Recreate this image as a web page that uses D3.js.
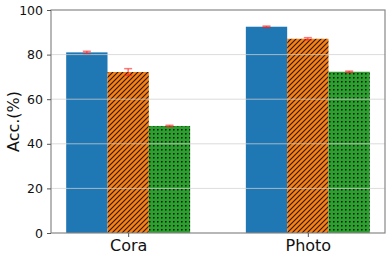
<!DOCTYPE html>
<html>
<head>
<meta charset="utf-8">
<script src="https://cdn.jsdelivr.net/npm/d3@7"></script>
<style>
  body { margin: 0; background: #fff; }
  svg { font-family: "DejaVu Sans", sans-serif; }
</style>
</head>
<body>
<svg id="chart" width="391" height="259"></svg>
<script>
// data
var datasets = ["Cora", "Photo"];
var seriesNames = ["s1", "s2", "s3"];
var accValues = [
    [81.0, 72.2, 48.0],   // Cora
    [92.5, 87.1, 72.3]    // Photo
];
var accErrors = [
    [0.5, 1.5, 0.3],
    [0.3, 0.5, 0.3]
];
var yTicks = [0, 20, 40, 60, 80, 100];

var colors = ["#1f77b4", "#ff7f0e", "#2ca02c"];
var fills = ["#1f77b4", "url(#hatch-diag)", "url(#hatch-dots)"];

var svg = d3.select("#chart");
var plotLeft = 51, plotRight = 385, plotTop = 10, plotBottom = 233;

var barW = 0.23;
// matplotlib-like limits: bars span -1.5w .. 1+1.5w plus 5% margin
var lo = -1.5 * barW, hi = 1 + 1.5 * barW, pad = (hi - lo) * 0.05;
var x = d3.scaleLinear().domain([lo - pad, hi + pad]).range([plotLeft, plotRight]);
var y = d3.scaleLinear().domain([0, 100]).range([plotBottom, plotTop]);

// patterns
var defs = svg.append("defs");
var p1 = defs.append("pattern")
    .attr("id", "hatch-diag")
    .attr("patternUnits", "userSpaceOnUse")
    .attr("width", 5).attr("height", 5);
p1.append("rect").attr("width", 5).attr("height", 5).attr("fill", colors[1]);
p1.append("path")
    .attr("d", "M-1,6 L6,-1 M-1,1 L1,-1 M4,6 L6,4")
    .attr("stroke", "#1a1a1a")
    .attr("stroke-width", 1.1);

var p2 = defs.append("pattern")
    .attr("id", "hatch-dots")
    .attr("patternUnits", "userSpaceOnUse")
    .attr("width", 4).attr("height", 4);
p2.append("rect").attr("width", 4).attr("height", 4).attr("fill", colors[2]);
p2.append("rect").attr("x", 1).attr("y", 1).attr("width", 1.5).attr("height", 1.5).attr("fill", "#111");

// bars
var groups = svg.selectAll("g.group")
    .data(accValues)
    .enter()
    .append("g")
    .attr("class", "group");

groups.selectAll("rect")
    .data(function (d, gi) {
        return d.map(function (v, si) { return { g: gi, s: si, v: v }; });
    })
    .enter()
    .append("rect")
    .attr("x", function (d) { return x(d.g + (d.s - 1.5) * barW); })
    .attr("width", function (d) { return x(barW) - x(0); })
    .attr("y", function (d) { return y(d.v); })
    .attr("height", function (d) { return y(0) - y(d.v); })
    .attr("fill", function (d) { return fills[d.s]; });

// grid lines (drawn above the bars, like the picture)
svg.append("g")
    .selectAll("line")
    .data(yTicks.slice(1, -1))
    .enter()
    .append("line")
    .attr("x1", plotLeft).attr("x2", plotRight)
    .attr("y1", function (d) { return y(d); })
    .attr("y2", function (d) { return y(d); })
    .attr("stroke", "#d0d0d0")
    .attr("stroke-opacity", 0.75)
    .attr("stroke-width", 1);

// error bars
var errData = [];
accValues.forEach(function (row, gi) {
    row.forEach(function (v, si) {
        errData.push({ g: gi, s: si, v: v, e: accErrors[gi][si] });
    });
});
var err = svg.append("g")
    .selectAll("g")
    .data(errData)
    .enter()
    .append("g")
    .attr("stroke", "#ff2020")
    .attr("stroke-opacity", 0.6)
    .attr("stroke-width", 1.5);
err.append("line")
    .attr("x1", function (d) { return x(d.g + (d.s - 1) * barW); })
    .attr("x2", function (d) { return x(d.g + (d.s - 1) * barW); })
    .attr("y1", function (d) { return y(d.v - d.e); })
    .attr("y2", function (d) { return y(d.v + d.e); });
[-1, 1].forEach(function (sign) {
    err.append("line")
        .attr("x1", function (d) { return x(d.g + (d.s - 1) * barW) - 4; })
        .attr("x2", function (d) { return x(d.g + (d.s - 1) * barW) + 4; })
        .attr("y1", function (d) { return y(d.v + sign * d.e); })
        .attr("y2", function (d) { return y(d.v + sign * d.e); });
});

// frame
svg.append("rect")
    .attr("x", plotLeft).attr("y", plotTop)
    .attr("width", plotRight - plotLeft).attr("height", plotBottom - plotTop)
    .attr("fill", "none")
    .attr("stroke", "#888")
    .attr("stroke-width", 1.2);

// axes
var yAxis = svg.append("g")
    .attr("transform", "translate(" + plotLeft + ",0)")
    .call(d3.axisLeft(y).tickValues(yTicks).tickSize(4).tickPadding(4));
yAxis.select(".domain").remove();
yAxis.selectAll("line").attr("stroke", "#555");
yAxis.selectAll("text").attr("font-size", 12.5).attr("fill", "#111")
    .attr("font-family", "DejaVu Sans");

var xAxis = svg.append("g")
    .attr("transform", "translate(0," + plotBottom + ")")
    .call(d3.axisBottom(x).tickValues([0, 1]).tickSize(4).tickPadding(3)
        .tickFormat(function (d) { return datasets[d]; }));
xAxis.select(".domain").remove();
xAxis.selectAll("line").attr("stroke", "#555");
xAxis.selectAll("text").attr("font-size", 16).attr("fill", "#111")
    .attr("font-family", "DejaVu Sans");

svg.append("text")
    .attr("transform", "translate(19," + ((plotTop + plotBottom) / 2) + ") rotate(-90)")
    .attr("text-anchor", "middle")
    .attr("font-size", 16)
    .attr("fill", "#111")
    .text("Acc.(%)");
</script>
</body>
</html>
